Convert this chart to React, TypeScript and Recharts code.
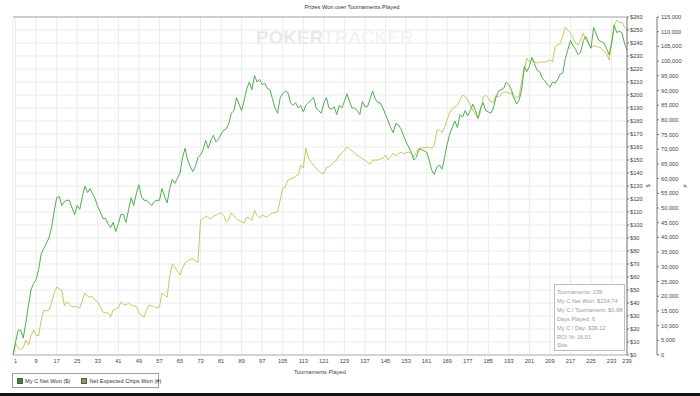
import { CartesianGrid, Line, LineChart, ReferenceLine, XAxis, YAxis } from "recharts";

const netWon = [
  0, 10, 19, 19, 13, 25, 38, 50, 55, 58,
  66, 78, 82, 86, 90, 98, 110, 121, 122, 115,
  118, 119, 119, 113, 108, 115, 112, 122, 130, 125,
  128, 124, 120, 114, 110, 105, 105, 101, 98, 102,
  95, 101, 108, 108, 102, 112, 121, 115, 124, 131,
  122, 119, 119, 117, 115, 118, 119, 119, 128, 122,
  117, 128, 135, 132, 136, 140, 152, 159, 150, 145,
  141, 145, 152, 154, 158, 165, 159, 165, 169, 164,
  166, 170, 173, 174, 178, 186, 188, 198, 193, 188,
  196, 205, 210, 204, 215, 210, 212, 208, 209, 205,
  204, 197, 190, 186, 198, 201, 203, 202, 194, 192,
  194, 190, 192, 187, 192, 194, 196, 198, 190, 188,
  186, 194, 198, 190, 189, 191, 185, 192, 190, 195,
  201, 195, 190, 190, 188, 185, 195, 191, 191, 197,
  203, 197, 194, 194, 190, 185, 180, 175, 171, 178,
  177, 174, 169, 164, 160, 156, 150, 152, 158, 158,
  157, 156, 150, 142, 139, 145, 146, 143, 152, 162,
  170, 175, 180, 175, 185, 183, 188, 184, 188, 193,
  188, 182, 190, 194, 188, 187, 186, 190, 198, 203,
  204, 205, 210, 208, 204, 198, 193, 196, 204, 222,
  218, 222, 229, 224, 219, 218, 213, 211, 208, 206,
  210, 209, 212, 216, 217, 228, 235, 242, 238, 235,
  231, 233, 242, 245, 240, 236, 252, 247, 242, 241,
  240, 236, 231, 240, 254, 248, 249, 248, 240, 234.74,
];

const chipsWon = [
  0, 4000, 2500, 1800, 2500, 5100, 3400, 6500, 8500, 6800,
  6500, 12000, 15300, 15000, 15300, 17700, 21000, 23100, 22500, 22000,
  16700, 18000, 17200, 16300, 16600, 16300, 16000, 18500, 21100, 20100,
  19700, 19800, 18600, 18000, 16300, 14600, 14400, 14300, 12900, 15300,
  15600, 16000, 18000, 17300, 17000, 17700, 17000, 16700, 16500, 14300,
  13500, 12900, 15500, 17000, 16700, 16500, 16000, 16300, 21100, 20300,
  19700, 27000, 31000, 29900, 28500, 27200, 29500, 31300, 32000, 32600,
  32700, 32000, 31600, 45900, 46500, 47300, 46800, 46300, 47200, 47600,
  48000, 48300, 47500, 45300, 46300, 48300, 47500, 46300, 45800, 45300,
  44900, 46900, 46500, 45900, 49300, 47500, 46600, 47600, 47200, 46900,
  47800, 48300, 48500, 48700, 52700, 56800, 57200, 59500, 59900, 60200,
  60800, 61300, 64600, 63600, 70400, 67000, 65600, 64600, 63600, 62500,
  61900, 61600, 63900, 64000, 65000, 65700, 66300, 68000, 68700, 69500,
  70800, 70100, 69400, 68700, 68000, 67400, 66800, 66300, 65500, 65000,
  66300, 66300, 66300, 66700, 67000, 68000, 66400, 67500, 68700, 67700,
  68500, 69000, 68400, 68800, 69000, 68700, 67400, 69000, 70400, 70400,
  70500, 70700, 70600, 70400, 71400, 76500, 76500, 75700, 77500, 80000,
  82500, 83800, 84400, 85000, 87000, 88400, 88000, 86700, 85000, 83300,
  82000, 80600, 82700, 87700, 88400, 87400, 86100, 86000, 88400, 87700,
  88800, 89400, 89500, 89100, 89100, 87400, 87800, 88000, 93000, 97000,
  101000, 99700, 100400, 99800, 99300, 99700, 99700, 99700, 100000, 100400,
  99700, 104800, 105500, 106000, 108500, 111600, 110500, 109500, 107800, 106000,
  105500, 107200, 109500, 107200, 106000, 104400, 105400, 105000, 104800, 104400,
  103300, 102700, 100400, 105500, 112000, 114000, 113000, 113300, 111600, 110600,
];

const xTicks = [
  1, 9, 17, 25, 33, 41, 49, 57, 65, 73, 81, 89, 97, 105, 113, 121, 129, 137,
  145, 153, 161, 169, 177, 185, 193, 201, 209, 217, 225, 233, 239,
];

const usdTicks = [
  0, 10, 20, 30, 40, 50, 60, 70, 80, 90, 100, 110, 120, 130, 140, 150, 160,
  170, 180, 190, 200, 210, 220, 230, 240, 250, 260,
];

const chipTicks = [
  0, 5000, 10000, 15000, 20000, 25000, 30000, 35000, 40000, 45000, 50000,
  55000, 60000, 65000, 70000, 75000, 80000, 85000, 90000, 95000, 100000,
  105000, 110000, 115000,
];

const statLines = [
  "Tournaments: 239",
  "My C Net Won: $234.74",
  "My C / Tournament: $0.98",
  "Days Played: 6",
  "My C / Day: $39.12",
  "ROI %: 16.01",
  "Site:",
];

const legendItems = [
  { label: "My C Net Won ($)", color: "#2f8f2f" },
  { label: "Net Expected Chips Won (#)", color: "#9c9c3c" },
];

const rows = netWon.map((net, i) => ({ t: i, net, chips: chipsWon[i] }));

const FONT = "'Liberation Sans', Arial, sans-serif";
const tickStyle = { fontSize: 5.7, fill: "#444", fontFamily: FONT };

function AxisMark(props: any) {
  const vb = props.viewBox ?? {};
  const x = (vb.x ?? 0) + props.dx;
  const y = (vb.y ?? 0) + (vb.height ?? 0) / 2;
  return (
    <text
      x={x}
      y={y}
      transform={`rotate(-90 ${x} ${y})`}
      textAnchor="middle"
      dominantBaseline="central"
      fontSize={5.7}
      fontFamily={FONT}
      fill="#444"
    >
      {props.text}
    </text>
  );
}

export default function App() {
  return (
    <div
      style={{
        position: "absolute",
        left: 0,
        top: 0,
        width: 700,
        height: 396,
        background: "#fff",
        overflow: "hidden",
        fontFamily: FONT,
      }}
    >
      <div
        style={{
          position: "absolute",
          left: 0,
          top: 4,
          width: 704,
          textAlign: "center",
          fontSize: 5.7,
          color: "#333",
        }}
      >
        Prizes Won over Tournaments Played
      </div>
      <div
        style={{
          position: "absolute",
          left: 256,
          top: 26,
          fontSize: 18.5,
          letterSpacing: 0.3,
          whiteSpace: "nowrap",
          lineHeight: "24px",
        }}
      >
        <span style={{ color: "#e9e9e9", fontWeight: 700 }}>POKER</span>
        <span style={{ color: "#f1f1f1" }}>TRACKER</span>
      </div>
      <div style={{ position: "absolute", left: 0, top: 0 }}>
        <LineChart
          width={700}
          height={396}
          data={rows}
          margin={{ top: 17, right: 0, bottom: 21, left: 13 }}
        >
          <CartesianGrid yAxisId="a_usd" stroke="#ececec" strokeWidth={1} />
          <XAxis
            dataKey="t"
            type="number"
            domain={[0, 239]}
            ticks={xTicks}
            interval={0}
            height={20}
            axisLine={{ stroke: "#b0b0b0" }}
            tickLine={false}
            tickSize={2}
            tickMargin={2}
            tick={tickStyle}
            label={{
              value: "Tournaments Played",
              position: "insideBottom",
              offset: 1,
              fontSize: 5.7,
              fill: "#444",
              fontFamily: FONT,
            }}
          />
          <YAxis
            yAxisId="left"
            orientation="left"
            width={0}
            domain={[0, 260]}
            tick={false}
            tickLine={false}
            axisLine={{ stroke: "#8a8a8a" }}
          />
          <YAxis
            yAxisId="a_usd"
            orientation="right"
            width={30}
            domain={[0, 260]}
            ticks={usdTicks}
            interval={0}
            tickFormatter={(v: number) => `$${v}`}
            tick={tickStyle}
            tickSize={2}
            tickMargin={1}
            tickLine={{ stroke: "#777" }}
            axisLine={{ stroke: "#777" }}
            label={<AxisMark dx={21} text="$" />}
          />
          <YAxis
            yAxisId="b_chips"
            orientation="right"
            width={43}
            domain={[0, 115000]}
            ticks={chipTicks}
            interval={0}
            tickFormatter={(v: number) => v.toLocaleString("en-US")}
            tick={tickStyle}
            tickSize={2}
            tickMargin={2}
            tickLine={{ stroke: "#777" }}
            axisLine={{ stroke: "#777" }}
            label={<AxisMark dx={28} text="#" />}
          />
          <ReferenceLine yAxisId="a_usd" y={260} stroke="#a8a8a8" />
          <Line
            yAxisId="b_chips"
            dataKey="chips"
            type="linear"
            stroke="#c8c862"
            strokeWidth={1}
            dot={false}
            isAnimationActive={false}
          />
          <Line
            yAxisId="a_usd"
            dataKey="net"
            type="linear"
            stroke="#4cb04c"
            strokeWidth={1}
            dot={false}
            isAnimationActive={false}
          />
        </LineChart>
      </div>
      <div
        style={{
          position: "absolute",
          left: 554,
          top: 284,
          width: 71,
          height: 67,
          border: "1px solid #bdbdbd",
          background: "#fff",
          boxSizing: "border-box",
          padding: "3px 0 0 2px",
          fontSize: 5.7,
          lineHeight: "8.9px",
          color: "#9a9a9a",
          whiteSpace: "nowrap",
        }}
      >
        {statLines.map((line) => (
          <div key={line}>{line}</div>
        ))}
      </div>
      <div
        style={{
          position: "absolute",
          left: 12,
          top: 373,
          width: 147,
          height: 15,
          border: "1px solid #a0a0a0",
          boxSizing: "border-box",
          display: "flex",
          alignItems: "center",
          paddingLeft: 4,
          fontSize: 5.7,
          color: "#333",
          whiteSpace: "nowrap",
        }}
      >
        {legendItems.map((item, i) => (
          <div
            key={item.label}
            style={{
              display: "flex",
              alignItems: "center",
              marginRight: i === 0 ? 11 : 0,
            }}
          >
            <span
              style={{
                display: "inline-block",
                width: 4,
                height: 4,
                background: item.color,
                border: "0.5px solid #555",
                marginRight: 2,
              }}
            />
            {item.label}
          </div>
        ))}
      </div>
      <div
        style={{
          position: "absolute",
          left: 0,
          top: 393,
          width: 700,
          height: 3,
          background: "#111",
        }}
      />
    </div>
  );
}
